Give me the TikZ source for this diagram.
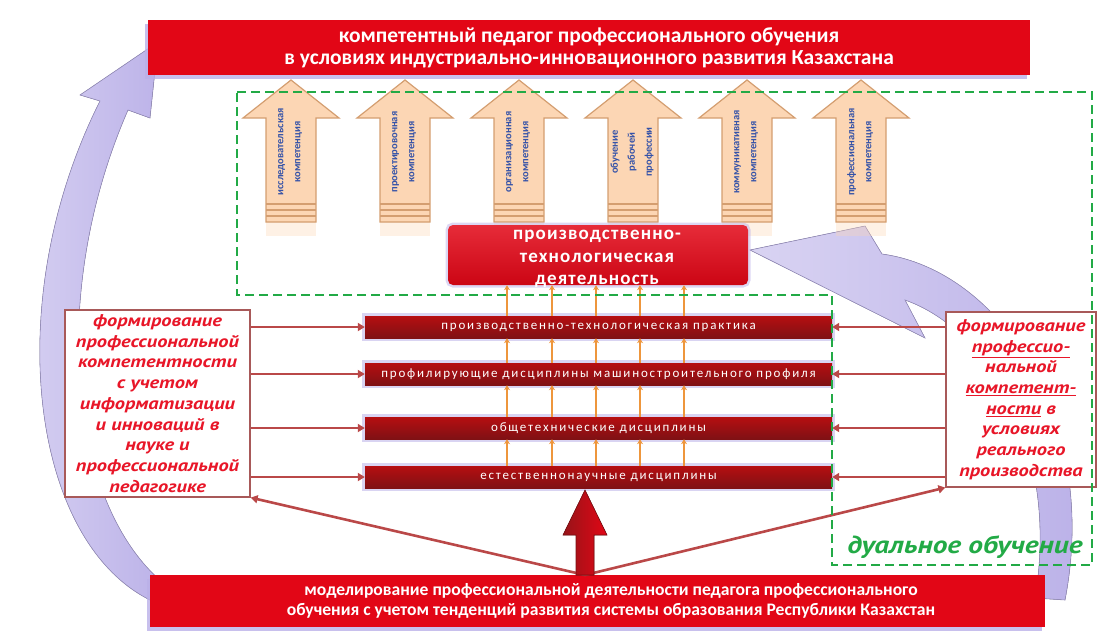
\documentclass[tikz,border=0pt]{standalone}
\usepackage{fontspec}
\setmainfont{Carlito}
\newfontfamily\boxfont{PT Sans}[FakeStretch=1.2]
\newfontfamily\barfont[LetterSpace=14]{Carlito}
\newfontfamily\corefont[LetterSpace=6]{Carlito}
\usetikzlibrary{calc, arrows.meta, shadows}
\definecolor{bannerred}{RGB}{226,6,22}
\definecolor{barred}{RGB}{150,20,24}
\definecolor{lav}{RGB}{186,176,232}
\definecolor{zonegreen}{RGB}{34,170,70}
\definecolor{ofill}{RGB}{252,214,180}
\definecolor{oedge}{RGB}{212,158,112}
\definecolor{obright}{RGB}{238,150,60}
\definecolor{txtblue}{RGB}{52,82,168}
\definecolor{linkred}{RGB}{186,72,72}
\definecolor{boxred}{RGB}{232,22,40}
\tikzset{
  banner/.style={fill=bannerred,text=white,align=center,inner sep=0pt,
    drop shadow={fill=lav,opacity=.8,shadow xshift=-3pt,shadow yshift=-4pt}},
  bannerlbl/.style={text=white,align=center,inner sep=0pt},
  core/.style={rounded corners=5pt,top color=bannerred!85!white,bottom color=bannerred!90!black,
    inner sep=0pt,preaction={draw=lav,line width=5pt,opacity=.5}},
  corelbl/.style={text=white,align=center,inner sep=0pt,
    font=\corefont\bfseries\fontsize{19}{22.5}\selectfont},
  bar/.style={top color=barred!70!red,bottom color=barred!85!black,text=white,
    minimum width=467,minimum height=22,inner sep=0pt,
    font=\barfont\fontsize{13}{14}\selectfont,
    preaction={draw=lav,line width=6pt,opacity=.55}},
  sidebox/.style={draw=linkred!70!gray,line width=1.2pt,fill=white,text=boxred,align=center,
    inner sep=0pt,font=\boxfont\bfseries\itshape\fontsize{17}{20.7}\selectfont},
  upbody/.style={fill=ofill,draw=oedge,line width=1.2pt},
  uptext/.style={text=txtblue,align=center,inner sep=0pt,
    font=\bfseries\fontsize{10.5}{17}\selectfont},
  stripe/.style={draw=oedge,line width=2pt},
  tinyup/.style={-{Stealth[length=5pt,width=6pt]},draw=obright,line width=1.6pt},
  sidearr/.style={-{Triangle[length=7pt,width=8pt]},draw=linkred,line width=2.6pt},
  bigup/.style={left color=barred,right color=bannerred,draw=barred!80!black,line width=.6pt},
  curl/.style={left color=lav!55!white,right color=lav,draw=lav!80!black,line width=.6pt},
  zone/.style={draw=zonegreen,line width=2.6pt,dash pattern=on 9pt off 5pt},
}
\begin{document}
\begin{tikzpicture}[x=1pt,y=-1pt]
  \useasboundingbox (0,0) rectangle (1099,630);

  % large returning arrows
  \fill[curl] (150,600) .. controls (30,540) and (0,300) .. (100,101)
    -- (80,95) -- (158,42) -- (150,118) -- (128,110)
    .. controls (45,300) and (70,520) .. (175,592) -- cycle;
  \fill[curl] (1065,600) .. controls (1100,420) and (1000,270) .. (882,254)
    -- (865,226) -- (750,250) -- (925,338) -- (905,300)
    .. controls (990,330) and (1060,450) .. (1035,598) -- cycle;

  % competence arrows
  \foreach \cx/\txt [count=\i] in {
      291/{исследовательская\\компетенция},
      405/{проектировочная\\компетенция},
      519/{организационная\\компетенция},
      633/{обучение\\рабочей\\профессии},
      747/{коммуникативная\\компетенция},
      861/{профессиональная\\компетенция}}{
    \fill[ofill,opacity=.35] (\cx-25,222) rectangle (\cx+25,236);
    \filldraw[upbody] (\cx-25,222) -- (\cx-25,118) -- (\cx-48,118) -- (\cx,80)
      -- (\cx+48,118) -- (\cx+25,118) -- (\cx+25,222) -- cycle;
    \foreach \sy in {204,210,216}
      \draw[stripe] (\cx-25,\sy) -- (\cx+25,\sy);
    \node[uptext,rotate=90] (c\i) at (\cx-1,152) {\txt};
  }

  % activity and the four blocks
  \node[core,minimum width=300,minimum height=60] (act) at (598,255) {};
  \node[corelbl] (actlbl) at (597,259) {производственно-\\технологическая\\деятельность};
  \node[bar] (b1) at (598.5,327) {производственно-технологическая практика};
  \node[bar] (b2) at (598.5,374) {профилирующие дисциплины машиностроительного профиля};
  \node[bar] (b3) at (598.5,428) {общетехнические дисциплины};
  \node[bar] (b4) at (598.5,477) {естественнонаучные дисциплины};

  \foreach \x in {507,552,596,640,684}{
    \draw[tinyup] (\x,0 |- b1.north) -- (\x,0 |- act.south);
    \draw[tinyup] (\x,0 |- b2.north) -- (\x,0 |- b1.south);
    \draw[tinyup] (\x,0 |- b3.north) -- (\x,0 |- b2.south);
    \draw[tinyup] (\x,0 |- b4.north) -- (\x,0 |- b3.south);
  }

  % side boxes
  \node[sidebox,minimum width=185,minimum height=187] (lbox) at (157.5,403.5)
    {формирование\\профессиональной\\компетентности\\с учетом\\информатизации\\и инноваций в\\науке и\\профессиональной\\педагогике};
  \node[sidebox,minimum width=150,minimum height=175] (rbox) at (1021,399.5)
    {формирование\\\underline{профессио-}\\нальной\\\underline{компетент-}\\\underline{ности} в\\условиях\\реального\\производства};

  \foreach \b in {b1,b2,b3,b4}{
    \draw[sidearr] (lbox.east |- \b.west) -- (\b.west);
    \draw[sidearr] (rbox.west |- \b.east) -- (\b.east);
  }

  % banners
  \node[banner,minimum width=882,minimum height=55,
    font=\bfseries\fontsize{21.5}{22}\selectfont] (goal) at (589,47.5)
    {компетентный педагог профессионального обучения\\в условиях индустриально-инновационного развития Казахстана};
  \node[banner,minimum width=895,minimum height=52] (model) at (597.5,601) {};
  \node[bannerlbl,font=\bfseries\fontsize{17.6}{20}\selectfont] (modellbl) at (611,601)
    {моделирование профессиональной деятельности педагога профессионального\\обучения с учетом тенденций развития системы образования Республики Казахстан};

  \coordinate (src) at (585,575);
  \draw[sidearr] (src) -- (lbox.south east);
  \draw[sidearr] (src) -- (rbox.south west);
  \fill[bigup] (576,575) -- (576,535) -- (563,535) -- (585,490)
    -- (607,535) -- (594,535) -- (594,575) -- cycle;

  % dual training zone
  \draw[zone] (237,92) -- (1092,92) -- (1092,565) -- (832,565)
    -- (832,295) -- (237,295) -- cycle;
  \node[text=zonegreen,inner sep=0pt,font=\boxfont\bfseries\itshape\fontsize{24.5}{26}\selectfont]
    (dual) at (965,547) {дуальное обучение};
\end{tikzpicture}
\end{document}
